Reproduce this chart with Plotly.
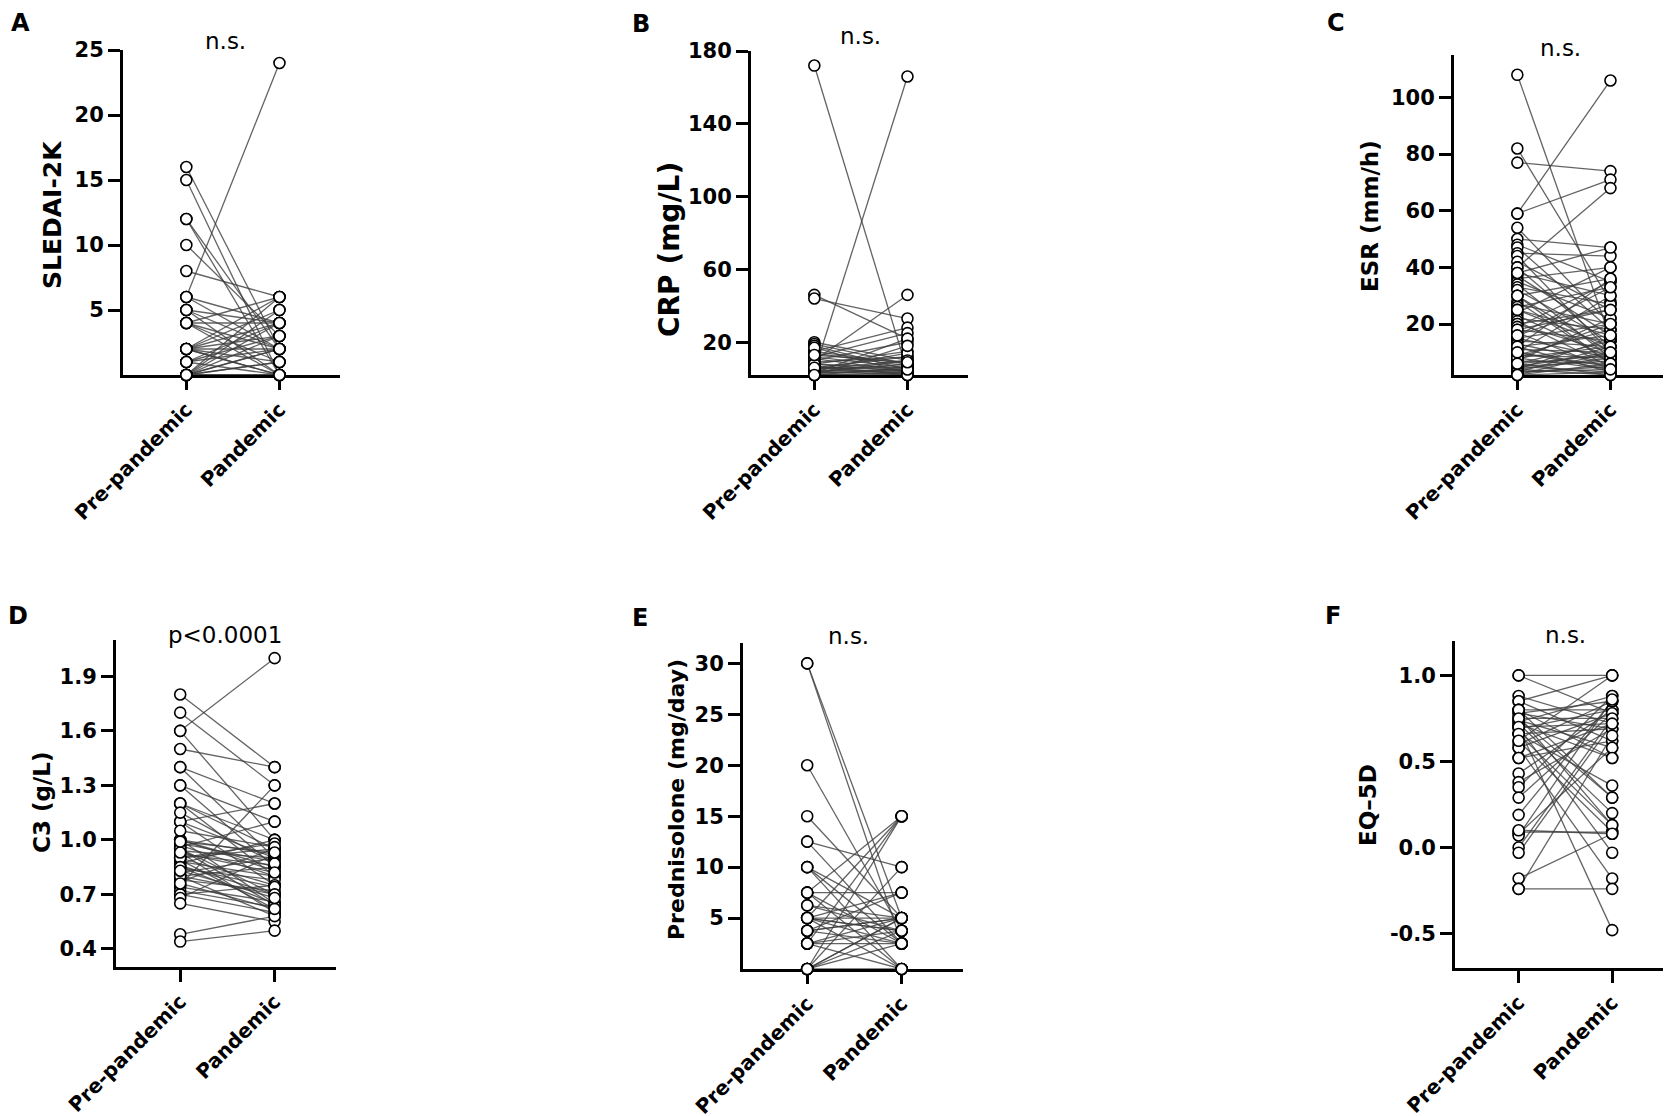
import plotly.graph_objects as go

# ---------------- data ----------------
groups = ["Pre-pandemic", "Pandemic"]

sledai_pre = [16, 15, 12, 12, 10, 8, 6, 6, 5, 5, 4, 4, 4, 4, 2, 2, 2, 2, 2, 2,
              1, 1, 1, 0, 0, 0, 0, 0, 0, 0, 0, 0, 4, 2, 6, 5, 0, 0, 2, 1]
sledai_pan = [2, 0, 2, 0, 3, 6, 24, 4, 0, 2, 4, 0, 6, 2, 6, 4, 2, 0, 5, 1,
              0, 3, 4, 5, 0, 2, 4, 1, 0, 3, 6, 2, 1, 3, 2, 4, 0, 1, 0, 2]

crp_pre = [172, 4, 46, 44, 10, 20, 19, 18, 15, 12, 10, 8, 6, 5, 3, 2, 8, 6, 4, 3,
           5, 12, 15, 2, 7, 9, 3, 6, 4, 11, 14, 17, 2, 5, 3, 8, 4, 6, 2, 13]
crp_pan = [4, 166, 22, 33, 46, 10, 8, 5, 28, 25, 20, 15, 12, 10, 5, 3, 4, 6, 8, 4,
           3, 6, 8, 6, 2, 12, 22, 3, 5, 4, 7, 3, 2, 14, 10, 6, 2, 5, 18, 9]

esr_pre = [108, 82, 77, 59, 59, 54, 50, 48, 47, 45, 44, 42, 40, 40, 38, 37, 36, 35, 34, 33,
           32, 30, 30, 28, 27, 26, 25, 24, 23, 22, 21, 20, 20, 19, 18, 17, 16, 15, 15, 14,
           13, 12, 12, 11, 10, 10, 9, 9, 8, 8, 7, 7, 6, 6, 5, 5, 5, 4, 4, 4,
           3, 3, 3, 2, 2, 2, 38, 25, 18, 12, 8, 6, 30, 16, 10]
esr_pan = [15, 28, 74, 106, 71, 20, 47, 35, 18, 44, 10, 25, 68, 12, 30, 16, 40, 22, 8, 27,
           14, 36, 10, 6, 20, 33, 12, 40, 8, 18, 5, 25, 10, 35, 14, 4, 27, 8, 20, 12,
           6, 16, 3, 10, 30, 5, 18, 8, 12, 4, 22, 6, 14, 9, 10, 3, 7, 8, 2, 15,
           5, 12, 4, 6, 3, 10, 47, 16, 25, 36, 20, 2, 6, 33, 4]

c3_pre = [1.8, 1.7, 1.6, 1.6, 1.5, 1.4, 1.4, 1.3, 1.3, 1.2, 1.2, 1.2, 1.1, 1.1, 1.1, 1.0, 1.0, 1.0, 0.98, 0.97,
          0.96, 0.95, 0.94, 0.93, 0.92, 0.9, 0.9, 0.89, 0.88, 0.87, 0.86, 0.85, 0.84, 0.82, 0.8, 0.8, 0.78, 0.77, 0.75, 0.74,
          0.72, 0.7, 0.7, 0.68, 0.65, 0.48, 0.44, 1.0, 0.95, 0.9, 0.85, 0.8, 1.05, 1.15, 0.76, 0.83, 0.93, 0.99]
c3_pan = [1.4, 1.3, 2.0, 1.0, 1.4, 1.2, 0.9, 1.1, 0.85, 1.0, 0.95, 0.8, 0.9, 1.2, 0.75, 0.92, 0.85, 0.65, 0.88, 0.8,
          1.1, 0.7, 0.9, 0.6, 0.86, 0.95, 0.75, 0.62, 0.8, 1.0, 0.7, 0.65, 0.78, 0.9, 0.85, 0.58, 0.72, 0.95, 1.3, 0.66,
          0.63, 0.75, 0.6, 0.92, 0.55, 0.58, 0.5, 0.83, 0.64, 0.98, 0.74, 0.7, 0.96, 0.87, 0.62, 0.68, 0.82, 0.93]

pred_pre = [30, 30, 20, 15, 12.5, 12.5, 10, 10, 7.5, 7.5, 7.5, 6.25, 6.25, 5, 5, 5, 5, 5, 3.75, 3.75,
            3.75, 2.5, 2.5, 2.5, 2.5, 0, 0, 0, 0, 0, 0, 5, 7.5, 2.5, 0, 3.75, 5, 10]
pred_pan = [5, 2.5, 3.75, 5, 10, 2.5, 5, 0, 7.5, 15, 2.5, 3.75, 5, 5, 15, 2.5, 3.75, 0, 5, 7.5,
            2.5, 5, 15, 3.75, 0, 15, 5, 2.5, 10, 0, 3.75, 7.5, 0, 2.5, 5, 5, 3.75, 2.5]

eq5d_pre = [1.0, 1.0, 0.88, 0.85, 0.85, 0.8, 0.8, 0.78, 0.78, 0.76, 0.75, 0.74, 0.73, 0.72, 0.72, 0.7, 0.7, 0.69, 0.66, 0.66,
            0.62, 0.6, 0.58, 0.58, 0.52, 0.52, 0.43, 0.38, 0.35, 0.29, 0.19, 0.09, 0.08, 0.07, 0.0, -0.03, -0.18, -0.24, -0.24, 0.8,
            0.75, 0.7, 0.66, 0.62, 0.1]
eq5d_pan = [1.0, 0.78, 0.72, 1.0, 0.62, 0.8, 0.29, 0.85, 0.69, 0.13, 0.75, 0.58, 0.88, 0.52, 0.2, 0.72, -0.48, 0.8, 0.36, 0.69,
            0.09, 0.85, 0.78, -0.18, 0.72, 0.62, 0.8, 0.69, 0.88, 0.78, 0.85, 0.09, 0.58, 0.86, 0.75, 0.72, 0.08, -0.24, 0.65, 0.52,
            0.29, -0.03, 0.13, 1.0, 0.08]

sledai_ticks = [5, 10, 15, 20, 25]
sledai_ticktext = ["5", "10", "15", "20", "25"]
crp_ticks = [20, 60, 100, 140, 180]
crp_ticktext = ["20", "60", "100", "140", "180"]
esr_ticks = [20, 40, 60, 80, 100]
esr_ticktext = ["20", "40", "60", "80", "100"]
c3_ticks = [0.4, 0.7, 1.0, 1.3, 1.6, 1.9]
c3_ticktext = ["0.4", "0.7", "1.0", "1.3", "1.6", "1.9"]
pred_ticks = [5, 10, 15, 20, 25, 30]
pred_ticktext = ["5", "10", "15", "20", "25", "30"]
eq5d_ticks = [-0.5, 0.0, 0.5, 1.0]
eq5d_ticktext = ["-0.5", "0.0", "0.5", "1.0"]

titles = ["SLEDAI-2K", "CRP (mg/L)", "ESR (mm/h)", "C3 (g/L)", "Prednisolone (mg/day)", "EQ\u20135D"]
letters = ["A", "B", "C", "D", "E", "F"]
stats = ["n.s.", "n.s.", "n.s.", "p<0.0001", "n.s.", "n.s."]

# ---------------- layout config (pixels) ----------------
W, H = 1671, 1116
panels = [
    dict(pre=sledai_pre, pan=sledai_pan, tv=sledai_ticks, tt=sledai_ticktext, yr=[0, 25],
         box=(115, 332, 42, 367), title=(44, 207, 25), letter=(12, 15), stat=(217, 33)),
    dict(pre=crp_pre, pan=crp_pan, tv=crp_ticks, tt=crp_ticktext, yr=[2, 180],
         box=(743, 960, 43, 367), title=(661, 242, 28), letter=(633, 16), stat=(852, 28)),
    dict(pre=esr_pre, pan=esr_pan, tv=esr_ticks, tt=esr_ticktext, yr=[2, 115],
         box=(1446, 1663, 47, 367), title=(1362, 208, 23), letter=(1328, 15), stat=(1552, 40)),
    dict(pre=c3_pre, pan=c3_pan, tv=c3_ticks, tt=c3_ticktext, yr=[0.3, 2.1],
         box=(108, 328, 632, 959), title=(34, 795, 23), letter=(10, 608), stat=(217, 627)),
    dict(pre=pred_pre, pan=pred_pan, tv=pred_ticks, tt=pred_ticktext, yr=[0, 32],
         box=(735, 955, 635, 961), title=(668, 792, 22), letter=(632, 610), stat=(840, 628)),
    dict(pre=eq5d_pre, pan=eq5d_pan, tv=eq5d_ticks, tt=eq5d_ticktext, yr=[-0.7, 1.2],
         box=(1447, 1665, 633, 960), title=(1360, 797, 23), letter=(1325, 608), stat=(1557, 627)),
]

FONT = "DejaVu Sans"
fig = go.Figure()
annotations = []
layout_axes = {}

for i, p in enumerate(panels, start=1):
    sfx = "" if i == 1 else str(i)
    xa, ya = "x" + sfx, "y" + sfx
    lx, ly = [], []
    for a, b in zip(p["pre"], p["pan"]):
        lx += [0, 1, None]
        ly += [a, b, None]
    fig.add_trace(go.Scatter(x=lx, y=ly, mode="lines",
                             line=dict(color="rgba(60,60,60,0.8)", width=1.3),
                             xaxis=xa, yaxis=ya, hoverinfo="skip", showlegend=False))
    n = len(p["pre"])
    fig.add_trace(go.Scatter(x=[0] * n + [1] * len(p["pan"]), y=p["pre"] + p["pan"], mode="markers",
                             marker=dict(symbol="circle", size=11, color="white",
                                         line=dict(color="black", width=1.6)),
                             cliponaxis=False, xaxis=xa, yaxis=ya, showlegend=False))
    x0, x1, yt, yb = p["box"]
    layout_axes["xaxis" + sfx] = dict(
        domain=[x0 / W, x1 / W], anchor=ya, range=[-0.68, 1.65],
        tickmode="array", tickvals=[0, 1], ticktext=groups, tickangle=-45,
        showline=True, linecolor="black", linewidth=3, ticks="outside",
        ticklen=12, tickwidth=3, tickcolor="black", showgrid=False, zeroline=False,
        layer="below traces",
        tickfont=dict(family=FONT, size=20, color="black", weight="bold"))
    layout_axes["yaxis" + sfx] = dict(
        domain=[1 - yb / H, 1 - yt / H], anchor=xa, range=p["yr"],
        tickmode="array", tickvals=p["tv"], ticktext=p["tt"],
        showline=True, linecolor="black", linewidth=3, ticks="outside",
        ticklen=12, tickwidth=3, tickcolor="black", showgrid=False, zeroline=False,
        layer="below traces",
        tickfont=dict(family=FONT, size=21, color="black", weight="bold"))
    tx, ty, ts = p["title"]
    annotations.append(dict(text=titles[i - 1], x=tx / W, y=1 - ty / H, xref="paper", yref="paper",
                            xanchor="center", yanchor="middle", textangle=-90, showarrow=False,
                            font=dict(family=FONT, size=ts, color="black", weight="bold")))
    lxp, lyp = p["letter"]
    annotations.append(dict(text=letters[i - 1], x=lxp / W, y=1 - lyp / H, xref="paper", yref="paper",
                            xanchor="center", yanchor="middle", showarrow=False,
                            font=dict(family=FONT, size=24, color="black", weight="bold")))
    sx, sy = p["stat"]
    annotations.append(dict(text=stats[i - 1], x=sx / W, y=1 - sy / H, xref="paper", yref="paper",
                            xanchor="center", yanchor="middle", showarrow=False,
                            font=dict(family=FONT, size=23, color="black")))

fig.update_layout(width=W, height=H, margin=dict(l=0, r=0, t=0, b=0, autoexpand=False),
                  paper_bgcolor="white", plot_bgcolor="white", showlegend=False,
                  annotations=annotations, **layout_axes)

fig.write_html("out.html")
